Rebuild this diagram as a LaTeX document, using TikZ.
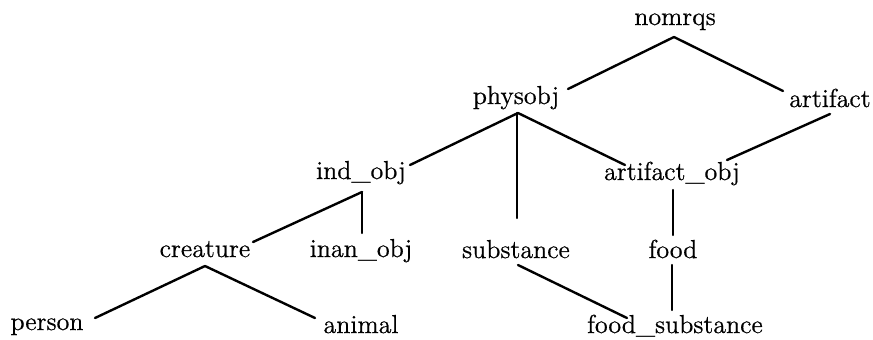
\documentclass[tikz,border=0pt]{standalone}
\usepackage{fontspec}
\newfontface\lbfont{Latin Modern Roman}[FakeBold=0.6]
\usetikzlibrary{calc}
\begin{document}
\begin{tikzpicture}[x=0.5pt,y=-0.5pt,
  lbl/.style={anchor=base,inner sep=0pt,font=\lbfont\fontsize{13}{15}\selectfont},
  edge/.style={line width=1.2pt,line cap=round}]
\useasboundingbox (0,0) rectangle (873,339);
\node[lbl] (nomrqs) at (675,25) {nomrqs};
\node[lbl] (physobj) at (516,104) {physobj};
\node[lbl] (artifact) at (830,107) {artifact};
\node[lbl] (indobj) at (361,179) {ind\_obj};
\node[lbl] (artobj) at (672,180) {artifact\_obj};
\node[lbl] (creature) at (205,257) {creature};
\node[lbl] (inanobj) at (361,257) {inan\_obj};
\node[lbl] (substance) at (516,258) {substance};
\node[lbl] (food) at (673,258) {food};
\node[lbl] (person) at (47,330) {person};
\node[lbl] (animal) at (361,333) {animal};
\node[lbl] (foodsub) at (675,333) {food\_substance};

\draw[edge] ($(nomrqs.base)+(-1,12)$) -- ($(physobj.base)+(52,-15)$);
\draw[edge] ($(nomrqs.base)+(-1,12)$) -- ($(artifact.base)+(-47,-16)$);
\draw[edge] ($(physobj.base)+(2,9)$) -- ($(indobj.base)+(49,-14)$);
\draw[edge] ($(physobj.base)+(1,9)$) -- ($(substance.base)+(1,-40)$);
\draw[edge] ($(physobj.base)+(2,9)$) -- ($(artobj.base)+(-47,-15)$);
\draw[edge] ($(artifact.base)+(0,7)$) -- ($(artobj.base)+(55,-20)$);
\draw[edge] ($(indobj.base)+(1,13)$) -- ($(creature.base)+(48,-15)$);
\draw[edge] ($(indobj.base)+(1,13)$) -- ($(inanobj.base)+(1,-24)$);
\draw[edge] ($(artobj.base)+(1,10)$) -- ($(food.base)+(0,-23)$);
\draw[edge] ($(creature.base)+(0,9)$) -- ($(person.base)+(48,-12)$);
\draw[edge] ($(creature.base)+(0,9)$) -- ($(animal.base)+(-46,-15)$);
\draw[edge] ($(substance.base)+(2,7)$) -- ($(foodsub.base)+(-48,-15)$);
\draw[edge] ($(food.base)+(-1,7)$) -- ($(foodsub.base)+(-3,-23)$);
\end{tikzpicture}
\end{document}
